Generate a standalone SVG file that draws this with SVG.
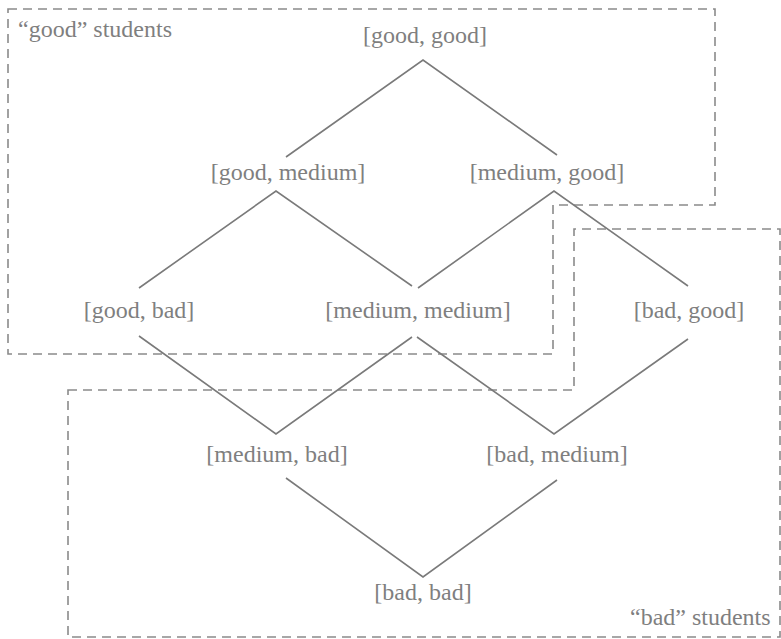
<svg xmlns="http://www.w3.org/2000/svg" width="781" height="639" viewBox="0 0 781 639">
<style>
.bg{fill:#ffffff}
.region{fill:none;stroke:#8a8a8a;stroke-width:1.6;stroke-dasharray:9 6}
.edge{fill:none;stroke:#7a7a7a;stroke-width:1.6}
text{font-family:"Liberation Serif","Times New Roman",serif;font-size:24px;fill:#7f7f7f}
.c{text-anchor:middle}
</style>
<rect class="bg" x="0" y="0" width="781" height="639"/>
<g id="regions">
<polygon id="good-region" class="region" points="8,9 715,9 715,205 553,205 553,354 8,354"/>
<polygon id="bad-region" class="region" points="68,390 574,390 574,229 780,229 780,637 68,637"/>
<text id="good-label" x="18" y="37">“good” students</text>
<text id="bad-label" x="630" y="625">“bad” students</text>
</g>
<g id="connectors">
<polyline class="edge" points="286,157 423,60 557,155"/>
<polyline class="edge" points="139,288 276,191 412,286"/>
<polyline class="edge" points="418,288 554,191 688,286"/>
<polyline class="edge" points="139,336 276,434 412,337"/>
<polyline class="edge" points="417,337 554,434 688,339"/>
<polyline class="edge" points="286,478 423,577 557,480"/>
</g>
<g id="n-good-good"><text class="c" x="425" y="43">[good, good]</text></g>
<g id="n-good-medium"><text class="c" x="288" y="180">[good, medium]</text></g>
<g id="n-medium-good"><text class="c" x="547" y="180">[medium, good]</text></g>
<g id="n-good-bad"><text class="c" x="139" y="318">[good, bad]</text></g>
<g id="n-medium-medium"><text class="c" x="418" y="318">[medium, medium]</text></g>
<g id="n-bad-good"><text class="c" x="689" y="318">[bad, good]</text></g>
<g id="n-medium-bad"><text class="c" x="277" y="462">[medium, bad]</text></g>
<g id="n-bad-medium"><text class="c" x="557" y="462">[bad, medium]</text></g>
<g id="n-bad-bad"><text class="c" x="423" y="600">[bad, bad]</text></g>
</svg>
